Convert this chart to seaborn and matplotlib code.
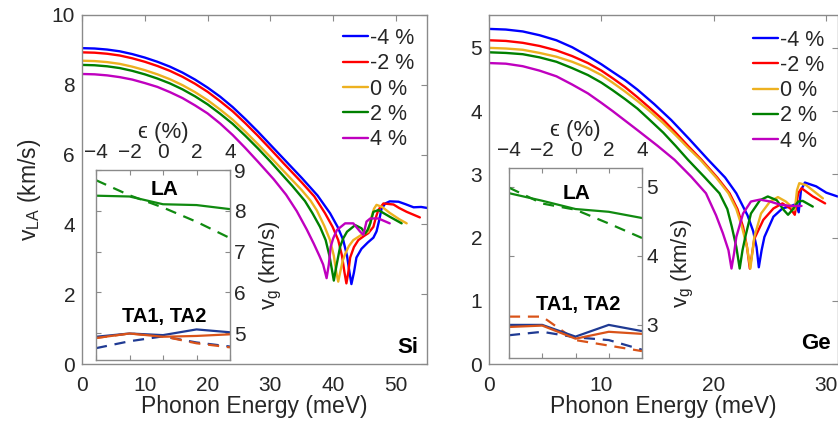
import matplotlib
matplotlib.use("Agg")
import matplotlib.pyplot as plt
import pandas as pd
import seaborn as sns

# ---------------------------------------------------------------- data
strain_labels = ["-4 %", "-2 %", "0 %", "2 %", "4 %"]
curve_colors = ["#0000FF", "#FF0000", "#EDB120", "#008000", "#BF00BF"]

# Si: LA group velocity (km/s) vs phonon energy (meV)
si_e_m4 = [0, 2, 4, 6, 8, 10, 12, 14, 16, 18, 20, 22, 24, 26, 28, 30, 32, 35, 37.5, 39.5, 40.7, 41.6,
           42.2, 42.6, 42.9, 43.3, 43.7, 44.5, 45.5, 46.4, 46.9, 47.3, 47.7, 48.3, 49.0, 50.4,
           51.5, 52.8, 54.0, 55.0]
si_v_m4 = [9.05, 9.04, 9.01, 8.96, 8.88, 8.78, 8.66, 8.52, 8.35, 8.15, 7.92, 7.66, 7.36, 7.02, 6.66,
           6.28, 5.90, 5.33, 4.83, 4.32, 3.93, 3.55, 3.10, 2.62, 2.29, 2.62, 3.05, 3.30, 3.48, 3.62,
           3.80, 4.10, 4.45, 4.60, 4.66, 4.65, 4.58, 4.49, 4.50, 4.47]
si_e_m2 = [0, 2, 4, 6, 8, 10, 12, 14, 16, 18, 20, 22, 24, 26, 28, 30, 32, 35, 37, 38.7, 39.9, 40.8,
           41.4, 41.8, 42.1, 42.4, 42.7, 43.3, 44.0, 45.0, 45.6, 46.4, 46.8, 47.2, 48.0, 49.6,
           50.5, 51.7, 53.8]
si_v_m2 = [8.93, 8.92, 8.89, 8.84, 8.76, 8.66, 8.54, 8.40, 8.23, 8.03, 7.80, 7.53, 7.24, 6.90, 6.54,
           6.16, 5.77, 5.20, 4.80, 4.32, 3.93, 3.55, 3.10, 2.62, 2.31, 2.62, 3.05, 3.35, 3.55, 3.68,
           3.75, 3.93, 4.20, 4.42, 4.60, 4.57, 4.47, 4.36, 4.20]
si_e_0 = [0, 2, 4, 6, 8, 10, 12, 14, 16, 18, 20, 22, 24, 26, 28, 30, 32, 35, 36.4, 37.4, 38.6, 39.5,
          40.1, 40.5, 40.8, 41.1, 41.5, 41.9, 42.5, 43.2, 44.5, 45.6, 46.1, 46.5, 46.9, 47.8,
          49.0, 50.5, 51.7]
si_v_0 = [8.69, 8.68, 8.65, 8.60, 8.52, 8.42, 8.30, 8.16, 7.99, 7.79, 7.56, 7.29, 7.00, 6.66, 6.30,
          5.93, 5.55, 4.98, 4.68, 4.40, 3.95, 3.55, 3.10, 2.62, 2.36, 2.62, 2.95, 3.15, 3.38, 3.55,
          3.70, 3.79, 4.22, 4.45, 4.56, 4.50, 4.33, 4.15, 4.03]
si_e_p2 = [0, 2, 4, 6, 8, 10, 12, 14, 16, 18, 20, 22, 24, 26, 28, 30, 31, 33.5, 35.5, 36.7, 37.9,
           38.8, 39.4, 39.8, 40.1, 40.5, 41.1, 41.6, 42.2, 43.5, 44.5, 45.1, 45.5, 45.9, 46.4,
           47.2, 49.0, 50.9]
si_v_p2 = [8.57, 8.56, 8.53, 8.48, 8.40, 8.30, 8.18, 8.04, 7.87, 7.67, 7.44, 7.17, 6.88, 6.54, 6.18,
           5.80, 5.60, 5.10, 4.67, 4.32, 3.93, 3.55, 3.10, 2.70, 2.39, 2.80, 3.36, 3.60, 3.79, 3.98,
           3.89, 3.74, 3.85, 4.03, 4.36, 4.41, 4.22, 4.03]
si_e_p4 = [0, 2, 4, 6, 8, 10, 12, 14, 16, 18, 20, 22, 24, 26, 28, 30.5, 32.5, 34.2, 35.8, 36.9,
           37.8, 38.4, 38.95, 39.3, 39.6, 40.0, 40.6, 41.9, 43.2, 44.3, 44.8, 45.3, 45.9, 47.2, 49.0]
si_v_p4 = [8.31, 8.30, 8.27, 8.22, 8.15, 8.05, 7.94, 7.79, 7.62, 7.41, 7.18, 6.89, 6.56, 6.19, 5.80,
           5.30, 4.85, 4.38, 3.85, 3.45, 3.10, 2.85, 2.46, 2.85, 3.36, 3.60, 3.84, 4.03, 4.03, 3.79,
           3.70, 4.08, 4.17, 4.17, 4.03]

# Ge: LA group velocity (km/s) vs phonon energy (meV)
ge_e_m4 = [0, 1.5, 3, 4.5, 6, 7.4, 8.8, 10, 11, 12.1, 13.2, 14.7, 16.2, 17.8, 19.5, 21, 22.0, 23.0,
           23.5, 23.8, 24.0, 24.25, 24.5, 25.3, 26.1, 26.9, 27.3, 27.55, 27.75, 28.1, 29.1, 30.0, 31.0]
ge_v_m4 = [5.30, 5.29, 5.26, 5.20, 5.12, 5.01, 4.87, 4.74, 4.62, 4.49, 4.34, 4.11, 3.86, 3.56, 3.23,
           2.95, 2.70, 2.35, 2.10, 1.85, 1.53, 1.80, 2.01, 2.33, 2.46, 2.50, 2.53, 2.40, 2.75, 2.87,
           2.81, 2.71, 2.65]
ge_e_m2 = [0, 1.5, 3, 4.5, 6, 7.4, 8.8, 10, 11, 12.1, 13.2, 14.3, 15.5, 16.6, 17.7, 18.9, 20.3, 21.4,
           22.1, 22.6, 22.95, 23.2, 23.45, 23.6, 24.4, 25.3, 26.1, 26.8, 27.2, 27.5, 27.8, 28.8, 29.9]
ge_v_m2 = [5.12, 5.11, 5.08, 5.03, 4.96, 4.87, 4.76, 4.64, 4.52, 4.38, 4.22, 4.05, 3.86, 3.66, 3.45,
           3.23, 2.95, 2.70, 2.45, 2.17, 1.85, 1.51, 1.80, 1.98, 2.28, 2.46, 2.54, 2.46, 2.36, 2.70,
           2.78, 2.65, 2.54]
ge_e_0 = [0, 1.5, 3, 4.5, 6, 7.4, 8.8, 10, 11, 12.1, 13.2, 14.3, 15.5, 16.6, 17.7, 18.8, 20.2, 21.3,
          22.0, 22.5, 22.95, 23.25, 23.45, 23.6, 24.2, 25.0, 25.7, 26.4, 26.9, 27.2, 27.4, 27.6,
          28.2, 29.7]
ge_v_0 = [5.00, 4.99, 4.97, 4.92, 4.86, 4.78, 4.68, 4.57, 4.45, 4.31, 4.16, 4.00, 3.81, 3.62, 3.42,
          3.23, 2.95, 2.70, 2.45, 2.17, 1.85, 1.51, 1.80, 2.01, 2.38, 2.57, 2.64, 2.57, 2.49, 2.44,
          2.75, 2.86, 2.83, 2.62]
ge_e_p2 = [0, 1.5, 3, 4.5, 6, 7.4, 8.8, 10, 11, 12.1, 13.2, 14.3, 15.5, 16.6, 17.7, 19.2, 20.5, 21.2,
           21.6, 22.0, 22.3, 22.55, 22.8, 23.3, 24.1, 24.8, 25.6, 26.2, 26.6, 27.0, 27.5, 27.9, 28.8]
ge_v_p2 = [4.93, 4.92, 4.90, 4.85, 4.78, 4.68, 4.57, 4.45, 4.33, 4.19, 4.04, 3.86, 3.66, 3.45, 3.23,
           2.95, 2.70, 2.45, 2.17, 1.85, 1.51, 1.80, 2.01, 2.38, 2.59, 2.65, 2.59, 2.44, 2.36, 2.44,
           2.57, 2.58, 2.49]
ge_e_p4 = [0, 1.5, 3, 4.5, 6, 7.4, 8.8, 10, 11, 12.1, 13.2, 15, 16.5, 18.0, 19.3, 20.2, 20.8, 21.3,
           21.57, 21.8, 22.0, 22.6, 23.3, 24.1, 25.0, 25.9, 26.8, 27.8]
ge_v_p4 = [4.76, 4.75, 4.71, 4.64, 4.55, 4.42, 4.28, 4.13, 4.00, 3.85, 3.70, 3.45, 3.23, 2.96, 2.70,
           2.35, 2.07, 1.80, 1.51, 1.75, 2.01, 2.38, 2.57, 2.60, 2.57, 2.52, 2.50, 2.50]

# Inset: group velocity (km/s) vs strain (%)
strain_pct = [-4, -2, 0, 2, 4]
si_la_solid = [8.37, 8.35, 8.16, 8.14, 8.04]
si_la_dash = [8.75, 8.38, 8.08, 7.73, 7.33]
si_ta1_solid = [4.91, 4.99, 4.95, 5.09, 5.02]
si_ta2_solid = [4.88, 4.99, 4.91, 4.93, 4.97]
si_ta1_dash = [4.63, 4.80, 4.92, 4.77, 4.67]
si_ta2_dash = [4.88, 4.99, 4.92, 4.75, 4.65]

ge_la_solid = [4.91, 4.80, 4.68, 4.64, 4.55]
ge_la_dash = [4.99, 4.76, 4.67, 4.47, 4.26]
ge_ta1_solid = [3.00, 3.00, 2.83, 3.00, 2.91]
ge_ta2_solid = [2.97, 2.99, 2.80, 2.90, 2.87]
ge_ta1_dash = [2.85, 2.90, 2.82, 2.78, 2.64]
ge_ta2_dash = [3.12, 3.12, 2.78, 2.70, 2.62]

la_color = "#108A10"
ta1_color = "#1F3A93"
ta2_color = "#D95319"

# ---------------------------------------------------------------- style
sns.set_style("white")
plt.rcParams["font.family"] = ["Liberation Sans", "DejaVu Sans"]
plt.rcParams["mathtext.fontset"] = "custom"
plt.rcParams["mathtext.rm"] = "Liberation Sans"
plt.rcParams["mathtext.it"] = "Liberation Sans"
plt.rcParams["mathtext.default"] = "regular"
text_color = "#262626"
spine_color = "#8a8a8a"

W, H = 838, 421
fig = plt.figure(figsize=(W / 100, H / 100), dpi=100)


def px_axes(x0, y0, x1, y1):
    """Axes placed by pixel box (left, top, right, bottom)."""
    return fig.add_axes([x0 / W, 1 - y1 / H, (x1 - x0) / W, (y1 - y0) / H])


def long_form(energies, velocities):
    frames = [pd.DataFrame({"E": e, "v": v, "strain": lab})
              for lab, e, v in zip(strain_labels, energies, velocities)]
    return pd.concat(frames, ignore_index=True)


def style_box(ax):
    for s in ax.spines.values():
        s.set_color(spine_color)
        s.set_linewidth(1.0)
        s.set_visible(True)


def main_panel(ax, df, xlim, ylim, xticks, yticks, tag, legend_xy):
    sns.lineplot(data=df, x="E", y="v", hue="strain", palette=curve_colors,
                 hue_order=strain_labels, estimator=None, sort=False,
                 lw=1.7, legend=False, ax=ax)
    ax.set_xlim(*xlim)
    ax.set_ylim(*ylim)
    ax.set_xticks(xticks)
    ax.set_yticks(yticks)
    ax.set_xlabel("Phonon Energy (meV)", fontsize=16.5, color=text_color, labelpad=0)
    ax.set_ylabel("")
    ax.tick_params(axis="both", which="both", direction="in", top=True, right=True,
                   length=4, width=0.8, color=spine_color, labelsize=15,
                   labelcolor=text_color)
    ax.tick_params(axis="x", pad=8.5)
    ax.tick_params(axis="y", pad=5)
    style_box(ax)
    ax.text(tag[0], tag[1], tag[2], transform=ax.transAxes, fontsize=16,
            fontweight="bold", color="black", ha="center", va="center")
    ax.legend(handles=ax.lines[:5], labels=strain_labels, loc="upper left",
              bbox_to_anchor=(legend_xy[0] / W, 1 - legend_xy[1] / H),
              bbox_transform=fig.transFigure, frameon=False, fontsize=15.5,
              handlelength=1.16, handletextpad=0.1, labelspacing=0.2,
              borderpad=0, borderaxespad=0)


def inset_panel(ax, series, ylim, yticks, la_xy, ta_xy):
    for vals, col, ls in series:
        sns.lineplot(x=strain_pct, y=vals, color=col, lw=1.6, linestyle=ls,
                     estimator=None, ax=ax)
    ax.set_facecolor("white")
    ax.set_xlim(-4, 4)
    ax.set_ylim(*ylim)
    ax.set_xticks(strain_pct)
    ax.set_yticks(yticks)
    ax.xaxis.tick_top()
    ax.xaxis.set_label_position("top")
    ax.yaxis.tick_right()
    ax.yaxis.set_label_position("right")
    ax.tick_params(axis="both", which="both", direction="in", top=True, bottom=True,
                   left=True, right=True, labeltop=True, labelbottom=False,
                   labelleft=False, labelright=True, length=3.5, width=0.8,
                   color=spine_color, labelsize=15, labelcolor=text_color)
    ax.tick_params(axis="x", pad=6)
    ax.tick_params(axis="y", pad=3)
    ax.set_xlabel("\u03f5 (%)", fontsize=16, color=text_color, labelpad=3.5,
                  family=["Liberation Sans", "DejaVu Sans"])
    ax.set_ylabel(r"$v_g$ (km/s)", fontsize=16, color=text_color, labelpad=9)
    style_box(ax)
    ax.text(la_xy[0], la_xy[1], "LA", fontsize=15, fontweight="bold",
            ha="center", va="center", color="black")
    ax.text(ta_xy[0], ta_xy[1], "TA1, TA2", fontsize=14.5, fontweight="bold",
            ha="center", va="center", color="black")


dash = (0, (5, 3.5))

# ---------------------------------------------------------------- Si
ax_si = px_axes(82, 15, 427.4, 364)
si_df = long_form([si_e_m4, si_e_m2, si_e_0, si_e_p2, si_e_p4],
                  [si_v_m4, si_v_m2, si_v_0, si_v_p2, si_v_p4])
main_panel(ax_si, si_df, (0, 55), (0, 10), [0, 10, 20, 30, 40, 50],
           [0, 2, 4, 6, 8, 10], (0.944, 0.046, "Si"), (343, 28))
ax_si.set_ylabel(r"$v_{LA}$ (km/s)", fontsize=16.5, color=text_color, labelpad=6)

# ---------------------------------------------------------------- Ge
ax_ge = px_axes(489, 15, 837.5, 364)
ge_df = long_form([ge_e_m4, ge_e_m2, ge_e_0, ge_e_p2, ge_e_p4],
                  [ge_v_m4, ge_v_m2, ge_v_0, ge_v_p2, ge_v_p4])
main_panel(ax_ge, ge_df, (0, 31), (0, 5.52), [0, 10, 20, 30],
           [0, 1, 2, 3, 4, 5], (0.938, 0.06, "Ge"), (753, 29.5))

# ---------------------------------------------------------------- insets
ins_si = px_axes(96, 170, 230, 360)
inset_panel(ins_si,
            [(si_la_dash, la_color, dash), (si_la_solid, la_color, "-"),
             (si_ta1_dash, ta1_color, dash), (si_ta2_dash, ta2_color, dash),
             (si_ta1_solid, ta1_color, "-"), (si_ta2_solid, ta2_color, "-")],
            (4.34, 9), [5, 6, 7, 8, 9], (0.1, 8.53), (0.1, 5.4))

ins_ge = px_axes(509, 168, 642, 358)
inset_panel(ins_ge,
            [(ge_la_dash, la_color, dash), (ge_la_solid, la_color, "-"),
             (ge_ta1_dash, ta1_color, dash), (ge_ta2_dash, ta2_color, dash),
             (ge_ta1_solid, ta1_color, "-"), (ge_ta2_solid, ta2_color, "-")],
            (2.52, 5.275), [3, 4, 5], (0.05, 4.9), (0.15, 3.29))

fig.savefig("out.png", dpi=100, facecolor="white")
